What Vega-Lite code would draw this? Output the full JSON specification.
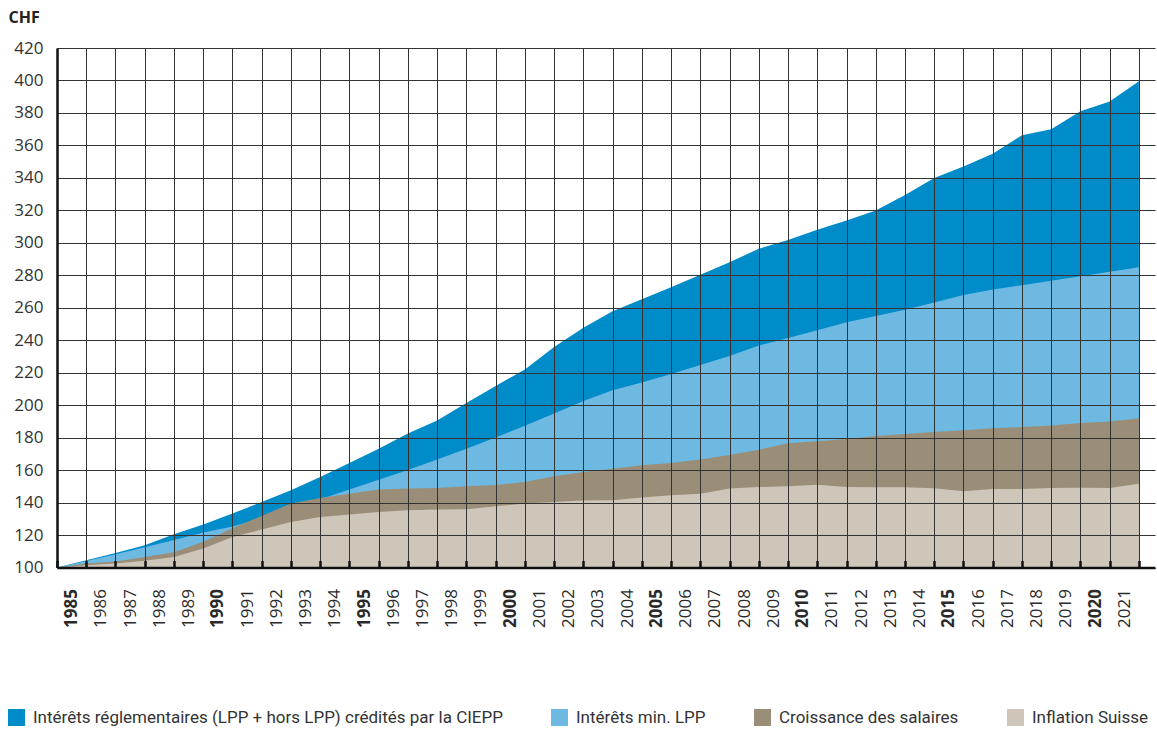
{
  "$schema": "https://vega.github.io/schema/vega-lite/v6.json",
  "width": 1098,
  "height": 519.5,
  "autosize": {"type": "none"},
  "padding": {"left": 57, "top": 48, "right": 2, "bottom": 164},
  "background": "white",
  "config": {"view": {"stroke": null}},
  "data": {
    "values": [
      {"year": 1984, "a": 100, "b": 100, "c": 100, "d": 100},
      {"year": 1985, "a": 104.5, "b": 104.0, "c": 102.5, "d": 101.4},
      {"year": 1986, "a": 109.0, "b": 108.2, "c": 103.7, "d": 102.5},
      {"year": 1987, "a": 113.7, "b": 112.5, "c": 106.5, "d": 104.1},
      {"year": 1988, "a": 120.5, "b": 117.0, "c": 109.4, "d": 106.5},
      {"year": 1989, "a": 126.5, "b": 121.5, "c": 115.8, "d": 111.7},
      {"year": 1990, "a": 133.2, "b": 125.2, "c": 124.2, "d": 118.8},
      {"year": 1991, "a": 140.4, "b": 130.5, "c": 131.8, "d": 123.4},
      {"year": 1992, "a": 147.6, "b": 136.2, "c": 139.4, "d": 128.1},
      {"year": 1993, "a": 155.8, "b": 142.0, "c": 142.8, "d": 131.1},
      {"year": 1994, "a": 164.4, "b": 148.0, "c": 145.5, "d": 132.6},
      {"year": 1995, "a": 173.2, "b": 154.0, "c": 148.0, "d": 134.2},
      {"year": 1996, "a": 182.5, "b": 160.1, "c": 148.6, "d": 135.3},
      {"year": 1997, "a": 190.6, "b": 166.5, "c": 149.0, "d": 135.7},
      {"year": 1998, "a": 201.3, "b": 173.2, "c": 150.0, "d": 135.9},
      {"year": 1999, "a": 211.8, "b": 180.1, "c": 150.8, "d": 137.7},
      {"year": 2000, "a": 222.0, "b": 187.3, "c": 152.7, "d": 139.4},
      {"year": 2001, "a": 235.8, "b": 194.8, "c": 156.2, "d": 140.4},
      {"year": 2002, "a": 247.7, "b": 202.6, "c": 158.8, "d": 141.2},
      {"year": 2003, "a": 257.9, "b": 209.2, "c": 160.9, "d": 141.4},
      {"year": 2004, "a": 265.3, "b": 213.9, "c": 163.0, "d": 143.1},
      {"year": 2005, "a": 272.7, "b": 219.2, "c": 164.4, "d": 144.5},
      {"year": 2006, "a": 280.3, "b": 224.7, "c": 166.5, "d": 145.5},
      {"year": 2007, "a": 288.1, "b": 230.3, "c": 169.3, "d": 148.6},
      {"year": 2008, "a": 296.3, "b": 236.7, "c": 172.6, "d": 149.6},
      {"year": 2009, "a": 301.8, "b": 241.4, "c": 176.5, "d": 150.0},
      {"year": 2010, "a": 308.0, "b": 246.2, "c": 177.7, "d": 151.0},
      {"year": 2011, "a": 313.7, "b": 251.1, "c": 179.2, "d": 149.6},
      {"year": 2012, "a": 319.9, "b": 254.9, "c": 181.0, "d": 149.4},
      {"year": 2013, "a": 329.5, "b": 258.7, "c": 182.2, "d": 149.5},
      {"year": 2014, "a": 340.0, "b": 263.3, "c": 183.5, "d": 148.8},
      {"year": 2015, "a": 347.0, "b": 267.9, "c": 184.5, "d": 146.9},
      {"year": 2016, "a": 354.8, "b": 271.2, "c": 185.7, "d": 148.3},
      {"year": 2017, "a": 366.2, "b": 273.9, "c": 186.5, "d": 148.4},
      {"year": 2018, "a": 369.9, "b": 276.7, "c": 187.5, "d": 149.0},
      {"year": 2019, "a": 381.0, "b": 279.4, "c": 189.0, "d": 149.2},
      {"year": 2020, "a": 387.1, "b": 282.2, "c": 190.0, "d": 149.0},
      {"year": 2021, "a": 399.5, "b": 285.0, "c": 191.9, "d": 151.6}
    ]
  },
  "transform": [{"fold": ["a", "b", "c", "d"], "as": ["key", "value"]}],
  "encoding": {
    "x": {
      "field": "year",
      "type": "quantitative",
      "scale": {"domain": [1984, 2021.55], "nice": false, "zero": false},
      "axis": {
        "title": null,
        "values": [1984,1985,1986,1987,1988,1989,1990,1991,1992,1993,1994,1995,1996,1997,1998,1999,2000,2001,2002,2003,2004,2005,2006,2007,2008,2009,2010,2011,2012,2013,2014,2015,2016,2017,2018,2019,2020,2021],
        "labelExpr": "datum.value >= 2021 ? '' : '' + (datum.value + 1)",
        "labelOffset": 14.6,
        "labelAngle": -90,
        "labelFlush": false,
        "labelBound": false,
        "labelOverlap": false,
        "labelPadding": 28,
        "labelFont": "Open Sans",
        "labelFontSize": 17,
        "labelColor": "#2a2a2a",
        "labelFontWeight": {"condition": {"test": "(datum.value + 1) % 5 == 0", "value": "bold"}, "value": "normal"},
        "grid": true,
        "gridColor": "#333333",
        "gridWidth": 1,
        "gridOpacity": 1,
        "domainColor": "#111111",
        "domainWidth": 2.5,
        "ticks": true,
        "tickSize": -7,
        "tickWidth": 2.5,
        "tickColor": "#111111",
        "zindex": 1
      }
    },
    "y": {
      "field": "value",
      "type": "quantitative",
      "scale": {"domain": [100, 420], "nice": false, "zero": false},
      "axis": {
        "values": [100,120,140,160,180,200,220,240,260,280,300,320,340,360,380,400,420],
        "grid": true,
        "gridColor": "#333333",
        "gridWidth": 1,
        "gridOpacity": 1,
        "domainColor": "#111111",
        "domainWidth": 2.5,
        "ticks": false,
        "labelPadding": 14,
        "labelFont": "Open Sans",
        "labelFontSize": 17,
        "labelColor": "#333333",
        "title": "CHF",
        "titleAngle": 0,
        "titleAlign": "left",
        "titleBaseline": "alphabetic",
        "titleX": -49,
        "titleY": -26,
        "titleFont": "Open Sans",
        "titleFontSize": 16,
        "titleFontWeight": "bold",
        "titleColor": "#222222",
        "zindex": 1
      }
    },
    "y2": {"datum": 100},
    "color": {
      "field": "key",
      "type": "nominal",
      "scale": {
        "domain": ["a", "b", "c", "d"],
        "range": ["#008bc9", "#6db9e2", "#9b8e78", "#cec6b9"]
      },
      "legend": {
        "orient": "none",
        "legendX": -49,
        "legendY": 661,
        "direction": "horizontal",
        "title": null,
        "labelExpr": "datum.value == 'a' ? 'Intérêts réglementaires (LPP + hors LPP) crédités par la CIEPP' : datum.value == 'b' ? 'Intérêts min. LPP' : datum.value == 'c' ? 'Croissance des salaires' : 'Inflation Suisse'",
        "symbolType": "square",
        "symbolSize": 289,
        "symbolStrokeWidth": 0,
        "symbolOpacity": 1,
        "labelFont": "Roboto",
        "labelFontSize": 17,
        "labelColor": "#333333",
        "labelOffset": 8,
        "columnPadding": 48,
        "labelLimit": 0
      }
    }
  },
  "layer": [
    {"transform": [{"filter": "datum.key == 'a'"}], "mark": {"type": "area", "opacity": 1}},
    {"transform": [{"filter": "datum.key == 'b'"}], "mark": {"type": "area", "opacity": 1}},
    {"transform": [{"filter": "datum.key == 'c'"}], "mark": {"type": "area", "opacity": 1}},
    {"transform": [{"filter": "datum.key == 'd'"}], "mark": {"type": "area", "opacity": 1}}
  ]
}
